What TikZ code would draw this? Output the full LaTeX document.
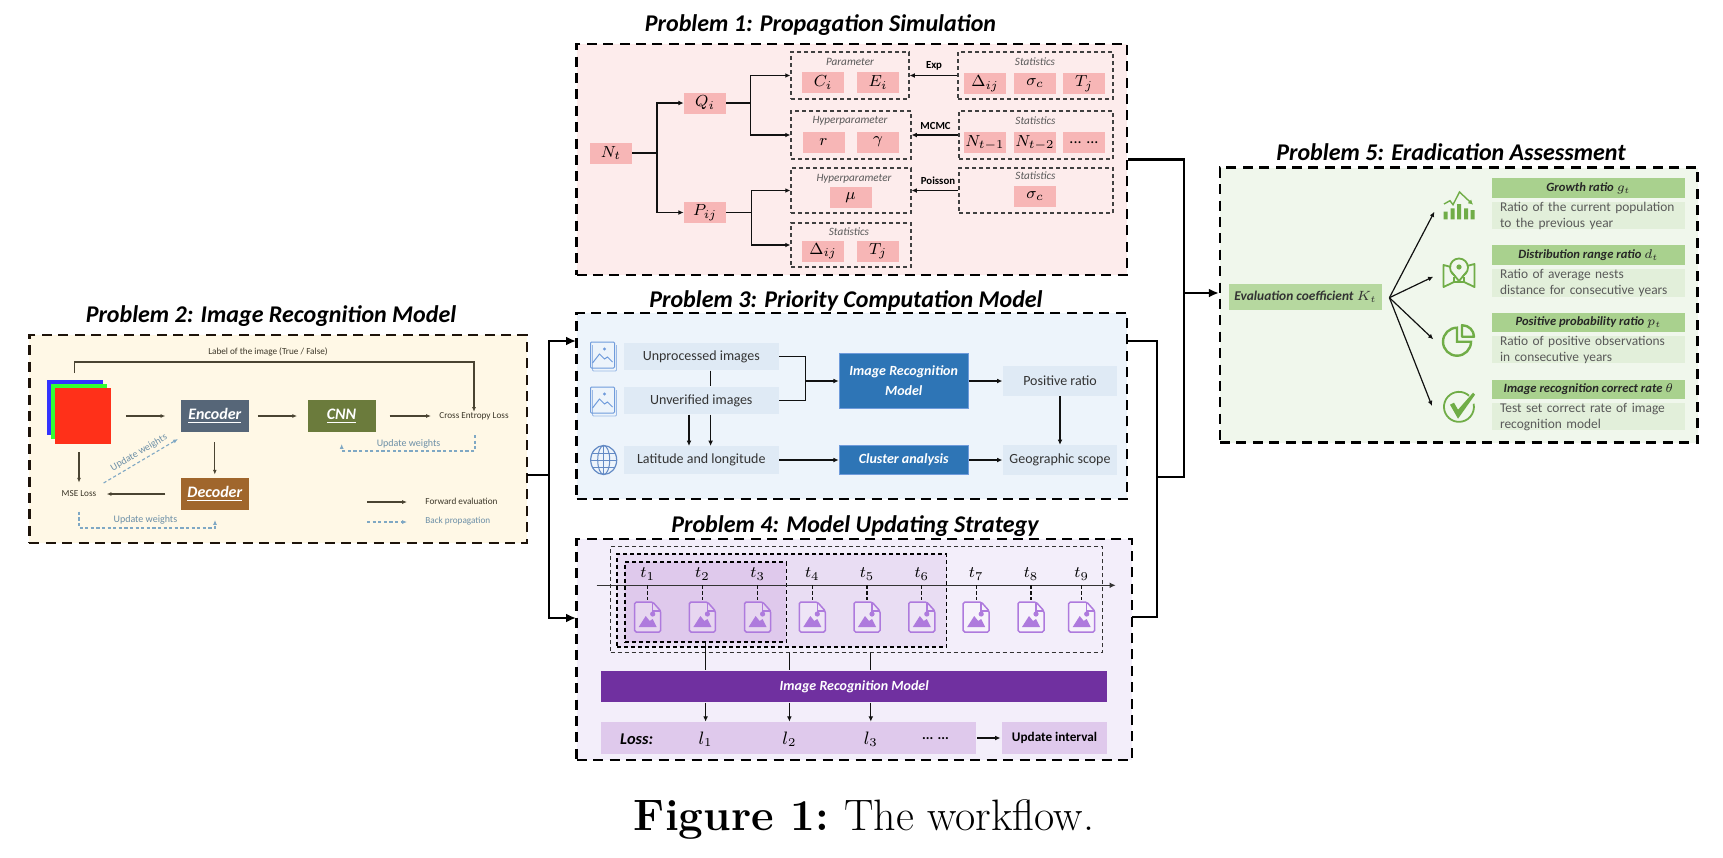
\documentclass[tikz,border=0pt]{standalone}
\usepackage{fix-cm}
\usepackage{fontspec}
\setsansfont{Carlito}
\usepackage{tikz}
\usetikzlibrary{arrows.meta,calc,positioning}
\definecolor{ink}{HTML}{111111}
\definecolor{muted}{HTML}{595959}
\definecolor{brownline}{HTML}{4A4432}
\definecolor{backblue}{HTML}{7FA8C4}
\definecolor{redsoft}{HTML}{FDECEC}
\definecolor{redcell}{HTML}{F7B6B6}
\definecolor{creamsoft}{HTML}{FFF8E6}
\definecolor{bluesoft}{HTML}{EDF4FB}
\definecolor{bluecell}{HTML}{DFEAF5}
\definecolor{bluedark}{HTML}{2E75B6}
\definecolor{blueicon}{HTML}{6F9BDB}
\definecolor{violetsoft}{HTML}{F3EEFA}
\definecolor{violetmid}{HTML}{E9DDF3}
\definecolor{violetcell}{HTML}{DFC9EC}
\definecolor{violetdark}{HTML}{7030A0}
\definecolor{violeticon}{HTML}{AE7ADD}
\definecolor{greensoft}{HTML}{F0F7EC}
\definecolor{greencell}{HTML}{E2EFDA}
\definecolor{greenhead}{HTML}{A9D18E}
\definecolor{greenicon}{HTML}{70AD47}
\definecolor{encslate}{HTML}{566678}
\definecolor{cnnolive}{HTML}{6B7B3C}
\definecolor{decbrown}{HTML}{A0662C}
\tikzset{
  panel/.style={draw=black,dashed,dash pattern=on 5pt off 3.2pt,line width=1.25pt,inner sep=0pt},
  subbox/.style={draw=black!75,dashed,dash pattern=on 2pt off 1.5pt,line width=0.55pt,inner sep=0pt},
  titletext/.style={font=\sffamily\fontsize{12}{14}\bfseries\itshape\selectfont,text=black,inner sep=0pt},
  cell/.style={fill=redcell,minimum width=21pt,minimum height=10.5pt,inner sep=0pt,font=\fontsize{8}{10}\selectfont},
  sublabel/.style={font=\sffamily\fontsize{5.6}{7}\itshape\selectfont,text=muted,inner sep=0pt},
  arrowlabel/.style={font=\sffamily\fontsize{5.4}{7}\bfseries\selectfont,inner sep=0pt},
  conn/.style={line width=0.6pt,draw=ink},
  arrow/.style={conn,-{Latex[length=2.6pt,width=2.4pt]}},
  bus/.style={line width=1.2pt,draw=black},
  busarrow/.style={bus,-{Latex[length=5pt,width=4.5pt]}},
  fwd/.style={line width=0.55pt,draw=brownline,-{Latex[length=2.4pt,width=2pt]}},
  back/.style={line width=0.55pt,draw=backblue,dashed,dash pattern=on 1.6pt off 1.2pt,-{Latex[length=2.4pt,width=2pt]}},
  small/.style={font=\sffamily\fontsize{4.6}{6}\selectfont,text=brownline!80!black,inner sep=0pt},
  backlabel/.style={font=\sffamily\fontsize{5}{6}\selectfont,text=backblue!85!black,inner sep=0pt},
  netbox/.style={minimum width=34pt,minimum height=16pt,inner sep=0pt,text=white,font=\sffamily\fontsize{8}{10}\bfseries\itshape\selectfont},
  bluecellbox/.style={fill=bluecell,minimum width=77.7pt,minimum height=13.7pt,inner sep=0pt,font=\sffamily\fontsize{7}{9}\selectfont,text=black!80},
  bluebox/.style={fill=bluedark,draw=blueicon,line width=0.3pt,minimum width=64.75pt,inner sep=0pt,align=center,text=white,font=\sffamily\fontsize{7}{10}\bfseries\itshape\selectfont},
  outbox/.style={fill=bluecell,minimum width=57.25pt,minimum height=14.8pt,inner sep=0pt,font=\sffamily\fontsize{7}{9}\selectfont,text=black!80},
  headbox/.style={fill=greenhead,minimum width=96.35pt,minimum height=9.85pt,inner sep=0pt,font=\sffamily\fontsize{6.3}{8}\bfseries\itshape\selectfont,text=black!85},
  bodybox/.style={fill=greencell,text width=88.35pt,inner xsep=4pt,inner ysep=0pt,align=left,font=\sffamily\fontsize{6.7}{8}\selectfont,text=muted},
  docicon/.pic={
    \draw[draw=violeticon,line width=0.75pt,rounded corners=0.8pt,fill=white,fill opacity=0.25]
      (-13,-15) -- (5,-15) -- (13,-6) -- (13,15) -- (-13,15) -- cycle;
    \draw[draw=violeticon,line width=0.75pt] (5,-15) -- (5,-6) -- (13,-6);
    \fill[violeticon] (-9,10) -- (-2,-1) -- (2,4) -- (5,2) -- (9,10) -- cycle;
    \fill[violeticon] (5,-3) circle (2.6);
  },
  stackicon/.pic={
    \draw[draw=blueicon!70,line width=0.4pt,rounded corners=0.5pt] (-11,-11) -- (-11,15) -- (13,15) -- (13,-11);
    \draw[draw=blueicon,line width=0.5pt,rounded corners=0.5pt] (-13,-14) rectangle (11,12);
    \draw[draw=blueicon,line width=0.5pt] (-11,7) -- (-4,-2) -- (1,3) -- (4,1) -- (9,6);
    \fill[blueicon] (1,-7) circle (1.6);
  },
  globeicon/.pic={
    \draw[draw=blueicon!90!black,line width=0.6pt] (0,0) circle [x radius=13,y radius=14.5];
    \draw[draw=blueicon!90!black,line width=0.5pt] (0,0) circle [x radius=6,y radius=14.5];
    \draw[draw=blueicon!90!black,line width=0.5pt] (-13,0) -- (13,0) (0,-14.5) -- (0,14.5)
      (-11.5,-7) -- (11.5,-7) (-11.5,7) -- (11.5,7);
  },
  charticon/.pic={
    \fill[greenicon] (-15.5,5) rectangle (-11.5,12.6) (-8.5,1.6) rectangle (-4.5,12.6)
      (-2,-2.7) rectangle (2,12.6) (5,1.6) rectangle (9,12.6) (11.5,3.3) rectangle (15.5,12.6);
    \draw[draw=greenicon,line width=0.7pt,-{Latex[length=2.4pt,width=2.6pt]}] (-15,-2.7) -- (-9,-6) -- (-6,-2) -- (0.5,-14.7) -- (14,-2);
  },
  mapicon/.pic={
    \draw[draw=greenicon,line width=0.9pt,line join=round] (-8,-6) -- (-15.5,-8) -- (-15.5,14) -- (-5,9) -- (0,9) -- (5,9) -- (15.5,14) -- (15.5,-9) -- (8,-7);
    \draw[draw=greenicon,line width=0.9pt] (-5,4) -- (-5,9) (5,4) -- (5,9);
    \draw[draw=greenicon,line width=0.9pt] (0,-5.5) circle (9);
    \fill[creamsoft!0!greensoft] (-5,0) -- (0,8) -- (5,0) -- cycle;
    \draw[draw=greenicon,line width=0.9pt] (-7.5,-1) -- (0,8) -- (7.5,-1);
    \fill[greenicon] (0,-6) circle (2.6);
  },
  pieicon/.pic={
    \draw[draw=greenicon,line width=1.2pt] (-2,-13) arc [start angle=-90,end angle=-360,radius=14] -- (-2,1) -- cycle;
    \draw[draw=greenicon,line width=1.2pt,line join=round] (3,-15.5) .. controls (10,-15.5) and (15,-10) .. (15,-4) -- (3,-4) -- cycle;
  },
  checkicon/.pic={
    \draw[draw=greenicon,line width=0.9pt] (10,-11) arc [start angle=-48,end angle=-372,radius=15];
    \fill[greenicon] (-9,-2) -- (-5,-4) -- (-1,3) -- (14,-14) -- (16,-12) -- (-1,12) -- cycle;
  }
}
\begin{document}
\begin{tikzpicture}[x=0.5pt,y=-0.5pt]
  \useasboundingbox (0,0) rectangle (1723,857);

  % panels
  \node[panel,fill=redsoft,minimum width=275.3pt,minimum height=115.5pt] (p1) at (851.8,159.5) {};
  \node[panel,draw=black!85!brown,fill=creamsoft,minimum width=248.8pt,minimum height=104pt] (p2) at (278.2,439) {};
  \node[panel,fill=bluesoft,minimum width=275.3pt,minimum height=93pt] (p3) at (851.8,406) {};
  \node[panel,fill=violetsoft,minimum width=277.7pt,minimum height=110.5pt] (p4) at (854.4,649.5) {};
  \node[panel,fill=greensoft,minimum width=238.75pt,minimum height=137.5pt] (p5) at (1458.8,305.2) {};

  \node[titletext] (title1) at (820.5,25) {Problem 1: Propagation Simulation};
  \node[titletext] (title2) at (271,316.5) {Problem 2: Image Recognition Model};
  \node[titletext] (title3) at (846,300.5) {Problem 3: Priority Computation Model};
  \node[titletext] (title4) at (855,526) {Problem 4: Model Updating Strategy};
  \node[titletext] (title5) at (1451,152.5) {Problem 5: Eradication Assessment};

  % problem 1
  \node[cell] (nt) at (611,153) {$N_t$};
  \node[cell] (qi) at (705,103) {$Q_i$};
  \node[cell] (pij) at (705,212.5) {$P_{ij}$};

  \node[subbox,minimum width=59pt,minimum height=23.5pt] (par) at (850,75.5) {};
  \node[subbox,minimum width=60pt,minimum height=24pt] (hyp) at (851,135) {};
  \node[subbox,minimum width=60pt,minimum height=22.5pt] (hypm) at (851,190.5) {};
  \node[subbox,minimum width=60pt,minimum height=22pt] (stl) at (851,245) {};
  \node[subbox,minimum width=77.5pt,minimum height=23.5pt] (sta) at (1035.5,75.5) {};
  \node[subbox,minimum width=77pt,minimum height=24pt] (stb) at (1036,135) {};
  \node[subbox,minimum width=77pt,minimum height=22.5pt] (stc) at (1036,190.5) {};

  \node[sublabel] (parl) at (850,62) {Parameter};
  \node[sublabel] (hypl) at (850,120.5) {Hyperparameter};
  \node[sublabel] (hypml) at (854,179) {Hyperparameter};
  \node[sublabel] (stll) at (849,232) {Statistics};
  \node[sublabel] (stal) at (1035,62) {Statistics};
  \node[sublabel] (stbl) at (1035.5,120.5) {Statistics};
  \node[sublabel] (stcl) at (1035.5,176) {Statistics};

  \node[cell] (ci) at (823,82.5) {$C_i$};
  \node[cell] (ei) at (878,82.5) {$E_i$};
  \node[cell] (rr) at (823.5,142) {$r$};
  \node[cell] (gam) at (878,142) {$\gamma$};
  \node[cell] (mu) at (850.5,197.5) {$\mu$};
  \node[cell] (dlo) at (823,251) {$\Delta_{ij}$};
  \node[cell] (tlo) at (878,251) {$T_j$};
  \node[cell] (dup) at (985,83.5) {$\Delta_{ij}$};
  \node[cell] (sup) at (1035,83.5) {$\sigma_c$};
  \node[cell] (tup) at (1084,83.5) {$T_j$};
  \node[cell] (na) at (985,142.5) {$N_{t-1}$};
  \node[cell] (nb) at (1035,142.5) {$N_{t-2}$};
  \node[cell] (nc) at (1084,142.5) {\sffamily ... ...};
  \node[cell] (sc) at (1035,196.5) {$\sigma_c$};

  \coordinate (ntj) at (657,153);
  \coordinate (qij) at (750.5,103);
  \coordinate (pij2) at (751.6,212.5);
  \draw[conn] (nt.east) -- (ntj);
  \draw[arrow] (ntj) |- (qi.west);
  \draw[arrow] (ntj) |- (pij.west);
  \draw[conn] (qi.east) -- (qij);
  \draw[arrow] (qij) |- (par.west);
  \draw[arrow] (qij) |- (hyp.west);
  \draw[conn] (pij.east) -- (pij2);
  \draw[arrow] (pij2) |- (hypm.west);
  \draw[arrow] (pij2) |- (stl.west);
  \draw[arrow] (sta.west) -- (par.east);
  \draw[arrow] (stb.west) -- (hyp.east);
  \draw[arrow] (stc.west) -- (hypm.east);
  \node[arrowlabel] (expl) at (934,66) {Exp};
  \node[arrowlabel] (mcmcl) at (935.5,125.5) {MCMC};
  \node[arrowlabel] (poisl) at (938,180.5) {Poisson};

  % problem 2
  \node[fill=blue!80!white,minimum width=28pt,minimum height=27.5pt,inner sep=0pt] (rgbb) at (74.5,407.5) {};
  \node[fill=green!80!white,minimum width=27.7pt,minimum height=27.5pt,inner sep=0pt] (rgbg) at (78.8,411.5) {};
  \node[fill=red!80!orange!90!white,minimum width=28.2pt,minimum height=27.8pt,inner sep=0pt] (rgbr) at (82.8,416) {};
  \node[netbox,fill=encslate] (enc) at (214.8,416) {\underline{Encoder}};
  \node[netbox,fill=cnnolive] (cnn) at (341.5,416) {\underline{CNN}};
  \node[netbox,fill=decbrown] (dec) at (214.8,494) {\underline{Decoder}};
  \node[small] (cel) at (474,416) {Cross Entropy Loss};
  \node[small] (msel) at (79,494) {MSE Loss};
  \node[small] (labl) at (268,352) {Label of the image (True / False)};
  \node[backlabel] (uwc) at (408.6,444) {Update weights};
  \node[backlabel] (uwm) at (145.4,520) {Update weights};
  \node[small,anchor=west] (fwdl) at (425,501) {Forward evaluation};
  \node[small,anchor=west,text=backblue!85!black] (backl) at (425,521) {Back propagation};

  \coordinate (imgtop) at (74.5,373);
  \coordinate (toprun) at (74.5,362);
  \coordinate (uwa) at (103.6,483);
  \coordinate (uwb) at (178,439);
  \coordinate (uca) at (475,435);
  \coordinate (ucb) at (475,451);
  \coordinate (ucc) at (341.7,451);
  \coordinate (ucd) at (341.7,444);
  \coordinate (uma) at (79,511.7);
  \coordinate (umb) at (79,528);
  \coordinate (umc) at (215,528);
  \coordinate (umd) at (215,520);
  \coordinate (lega) at (367,502);
  \coordinate (legb) at (407,502);
  \coordinate (legc) at (367,522);
  \coordinate (legd) at (407,522);
  \draw[fwd,shorten >=7.5pt,shorten <=7.2pt] (rgbr.east) -- (enc.west);
  \draw[fwd,shorten >=5pt,shorten <=4.3pt] (enc.east) -- (cnn.west);
  \draw[fwd,shorten >=4pt,shorten <=6.8pt] (cnn.east) -- (cel.west);
  \draw[fwd,shorten >=1.5pt,shorten <=5pt] (enc.south) -- (dec.north);
  \draw[fwd,shorten >=5pt,shorten <=7.5pt] (dec.west) -- (msel.east);
  \draw[fwd,shorten >=4pt,shorten <=4pt] (msel.north |- rgbr.south) -- (msel.north);
  \draw[fwd] (imgtop) -- (toprun) -| (cel.north);
  \draw[back] (uwa) -- (uwb);
  \node[backlabel,rotate=30.5] (uwr) at (139,452.7) {Update weights};
  \draw[back] (uca) -- (ucb) -- (ucc) -- (ucd);
  \draw[back] (uma) -- (umb) -- (umc) -- (umd);
  \draw[fwd] (lega) -- (legb);
  \draw[back] (legc) -- (legd);

  % problem 3
  \node[bluecellbox] (unproc) at (701.3,356.4) {Unprocessed images};
  \node[bluecellbox] (unver) at (701.3,400.5) {Unverified images};
  \node[bluecellbox] (lat) at (701.3,460) {Latitude and longitude};
  \node[bluebox,minimum height=27.5pt] (irm) at (903.7,381) {Image Recognition\\Model};
  \node[bluebox,minimum height=14.5pt] (clu) at (903.7,460) {Cluster analysis};
  \node[outbox] (pos) at (1060,381) {Positive ratio};
  \node[outbox] (geo) at (1060,460) {Geographic scope};
  \pic at (603.5,356) {stackicon};
  \pic at (603.5,401) {stackicon};
  \pic at (603.7,460) {globeicon};

  \coordinate (irmj) at (805.7,381);
  \draw[conn] (unproc.east) -| (irmj);
  \draw[conn] (unver.east) -| (irmj);
  \draw[arrow] (irmj) -- (irm.west);
  \draw[arrow] (irm.east) -- (pos.west);
  \draw[arrow] (lat.east) -- (clu.west);
  \draw[arrow] (clu.east) -- (geo.west);
  \draw[arrow] (pos.south) -- (geo.north);
  \draw[conn] ([xshift=4.65pt]unproc.south) -- ([xshift=4.65pt]unver.north);
  \draw[arrow] ([xshift=4.65pt]unver.south) -- ([xshift=4.65pt]lat.north);
  \draw[arrow] ([xshift=-6.15pt]unver.south) -- ([xshift=-6.15pt]lat.north);

  % problem 4
  \node[subbox,draw=black!80,minimum width=246pt,minimum height=52.8pt] (outer) at (856.7,599.5) {};
  \node[subbox,draw=black,line width=0.7pt,fill=violetmid,minimum width=164.8pt,minimum height=46.5pt] (mid) at (781.8,600.5) {};
  \node[subbox,draw=black,line width=0.7pt,fill=violetcell,minimum width=80.8pt,minimum height=40pt] (inner) at (705.6,602) {};
  \node[fill=violetdark,minimum width=252.8pt,minimum height=15.8pt,inner sep=0pt,text=white,font=\sffamily\fontsize{7}{9}\bfseries\itshape\selectfont] (bar) at (854.2,686.5) {Image Recognition Model};
  \node[fill=violetcell,minimum width=187.2pt,minimum height=16pt,inner sep=0pt] (loss) at (788.6,738) {};
  \node[fill=violetcell,minimum width=52.5pt,minimum height=16pt,inner sep=0pt,font=\sffamily\fontsize{6.6}{8}\bfseries\selectfont] (upd) at (1054.5,738) {Update interval};
  \node[font=\sffamily\fontsize{8.2}{10}\bfseries\itshape\selectfont,inner sep=0pt] (losl) at (636.6,739) {Loss:};
  \node[font=\fontsize{9}{11}\selectfont,inner sep=0pt] (l1) at (705.6,739) {$l_1$};
  \node[font=\fontsize{9}{11}\selectfont,inner sep=0pt] (l2) at (789.4,739) {$l_2$};
  \node[font=\fontsize{9}{11}\selectfont,inner sep=0pt] (l3) at (870.8,739) {$l_3$};
  \node[font=\sffamily\fontsize{7}{9}\bfseries\selectfont,inner sep=0pt] (ldots) at (935.5,739) {... ...};

  \coordinate (axl) at (596.6,585.3);
  \coordinate (axr) at (1115.7,585.3);
  \draw[conn,draw=black!80,-{Latex[length=3pt,width=2.8pt]}] (axl) -- (axr);
  \foreach \x [count=\i] in {647.7,702.4,757.6,812.3,867,921.8,976.2,1031,1081.7}
  {
    \node[font=\fontsize{8}{10}\selectfont,inner sep=0pt] (t\i) at (\x,574) {$t_{\i}$};
    \coordinate (tick\i) at (\x,585.3);
    \draw[conn,dashed,dash pattern=on 2pt off 1pt] (tick\i) -- +(0,15);
    \pic at (\x,617) {docicon};
  }

  \draw[conn] (l1 |- inner.south) -- (l1 |- bar.north);
  \draw[conn] (l2 |- outer.south) -- (l2 |- bar.north);
  \draw[conn] (l3 |- outer.south) -- (l3 |- bar.north);
  \draw[arrow] (l1 |- bar.south) -- (l1 |- loss.north);
  \draw[arrow] (l2 |- bar.south) -- (l2 |- loss.north);
  \draw[arrow] (l3 |- bar.south) -- (l3 |- loss.north);
  \draw[arrow,shorten <=0.6pt,shorten >=0.6pt] (loss.east) -- (upd.west);

  % problem 5
  \node[fill=greenhead!85!white,minimum width=76.2pt,minimum height=13pt,inner sep=0pt,font=\sffamily\fontsize{6.7}{8}\bfseries\itshape\selectfont,text=black!80] (eval) at (1305.5,297) {Evaluation coefficient $K_t$};
  \node[headbox] (h1) at (1588.4,187.8) {Growth ratio $g_t$};
  \node[bodybox] (b1) at (1588.4,215.7) {Ratio of the current population\\to the previous year};
  \node[headbox] (h2) at (1588.4,255) {Distribution range ratio $d_t$};
  \node[bodybox] (b2) at (1588.4,283) {Ratio of average nests\\distance for consecutive years};
  \node[headbox] (h3) at (1588.4,322.5) {Positive probability ratio $p_t$};
  \node[bodybox] (b3) at (1588.4,349.5) {Ratio of positive observations\\in consecutive years};
  \node[headbox] (h4) at (1588.4,389.5) {Image recognition correct rate $\theta$};
  \node[bodybox] (b4) at (1588.4,416.7) {Test set correct rate of image\\recognition model};
  \pic at (1459,206.7) {charticon};
  \pic at (1459,273) {mapicon};
  \pic at (1459,340.7) {pieicon};
  \pic at (1459,406.7) {checkicon};

  \coordinate (evalj) at (1389.4,297.7);
  \coordinate (ic1) at (1434.4,211.7);
  \coordinate (ic2) at (1433.3,276.7);
  \coordinate (ic3) at (1433.3,339.3);
  \coordinate (ic4) at (1432,406);
  \draw[arrow] (evalj) -- (ic1);
  \draw[arrow] (evalj) -- (ic2);
  \draw[arrow] (evalj) -- (ic3);
  \draw[arrow] (evalj) -- (ic4);

  % buses between the problems
  \coordinate (p2out) at (527,475);
  \coordinate (busl) at (549,475);
  \coordinate (p3in) at (576,341);
  \coordinate (p4in) at (576,618);
  \coordinate (p3out) at (1127,341);
  \coordinate (p4out) at (1132,617);
  \coordinate (busr) at (1157,477);
  \coordinate (busm) at (1184,293);
  \draw[bus] (p2out) -- (busl);
  \draw[busarrow] (busl) |- (p3in);
  \draw[busarrow] (busl) |- (p4in);
  \draw[bus] (p1.east) -| (busm);
  \draw[bus] (p3out) -| (busr);
  \draw[bus] (p4out) -| (busr);
  \draw[bus] (busr) -| (busm);
  \draw[busarrow] (busm) -- (busm -| p5.west);

  \node[font=\fontsize{22}{26}\selectfont,inner sep=0pt] (caption) at (864,819) {\textbf{Figure 1:}\hspace{0.35em}The workflow.};
\end{tikzpicture}
\end{document}
